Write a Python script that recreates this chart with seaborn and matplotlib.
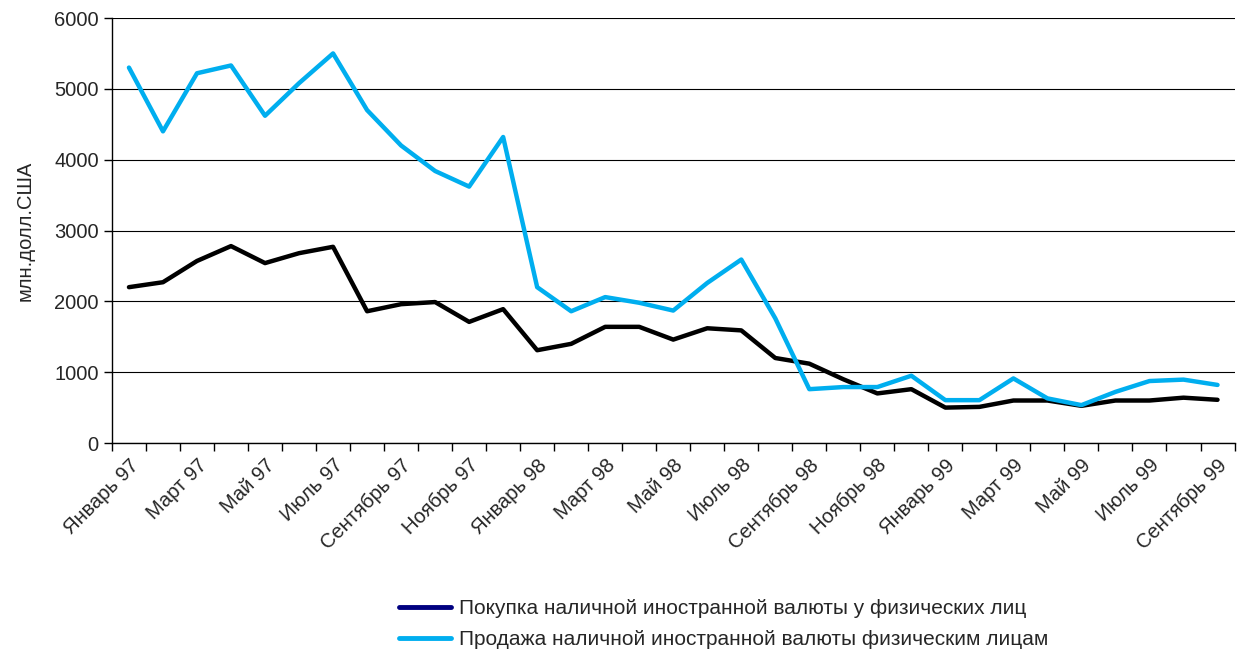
import matplotlib
matplotlib.use("Agg")
import matplotlib.pyplot as plt
import numpy as np
import pandas as pd
import seaborn as sns
from matplotlib.lines import Line2D
from matplotlib.ticker import FixedLocator, NullFormatter

months = ['Январь', 'Февраль', 'Март', 'Апрель', 'Май', 'Июнь', 'Июль', 'Август',
          'Сентябрь', 'Октябрь', 'Ноябрь', 'Декабрь']
years = ['97', '98', '99']
periods = [f"{m} {y}" for y in years for m in months][:33]

buy = [2200, 2270, 2570, 2780, 2540, 2680, 2770, 1860, 1960, 1990, 1710, 1890,
       1310, 1400, 1640, 1640, 1460, 1620, 1590, 1200, 1120, 900, 700, 760,
       500, 510, 600, 600, 525, 600, 600, 640, 610]
sell = [5300, 4400, 5220, 5330, 4620, 5080, 5500, 4700, 4200, 3840, 3620, 4320,
        2200, 1860, 2060, 1980, 1870, 2260, 2590, 1760, 760, 790, 790, 950,
        605, 605, 912, 630, 535, 722, 875, 895, 820]

label_buy = 'Покупка наличной иностранной валюты у физических лиц'
label_sell = 'Продажа наличной иностранной валюты физическим лицам'
ylabel = 'млн.долл.США'

sns.set_style("white")
plt.rcParams['font.family'] = ['Liberation Sans', 'DejaVu Sans']
plt.rcParams['font.size'] = 14.5

df = pd.DataFrame({'idx': np.arange(len(periods)), 'buy': buy, 'sell': sell})

fig = plt.figure(figsize=(12.37, 6.57), dpi=100)
ax = fig.add_axes([0.0905, 0.3257, 0.9075, 0.6469])

sns.lineplot(data=df, x='idx', y='buy', color='black', linewidth=3.2, ax=ax, zorder=3)
sns.lineplot(data=df, x='idx', y='sell', color='#00AEEF', linewidth=3.2, ax=ax, zorder=4)

ax.set_xlim(-0.5, len(periods) - 0.5)
ax.set_ylim(0, 6000)
ax.set_yticks(range(0, 6001, 1000))
ax.yaxis.grid(True, color='black', linewidth=0.8)
ax.set_axisbelow(True)

# ticks at category boundaries, labels every second month
ax.xaxis.set_minor_locator(FixedLocator(np.arange(-0.5, len(periods), 1.0)))
ax.xaxis.set_minor_formatter(NullFormatter())
ax.set_xticks(np.arange(0, len(periods), 2))
ax.set_xticklabels(periods[::2], rotation=45, ha='right', rotation_mode='anchor')
ax.tick_params(axis='x', which='major', length=0, pad=9, labelsize=14.5)
ax.tick_params(axis='x', which='minor', length=6, width=1, color='black', direction='out', bottom=True)
ax.tick_params(axis='y', length=6, width=1, color='black', direction='out', left=True, labelsize=14.5)

for s in ['top', 'right']:
    ax.spines[s].set_visible(False)
for s in ['left', 'bottom']:
    ax.spines[s].set_color('black')
    ax.spines[s].set_linewidth(1)

ax.set_xlabel('')
ax.set_ylabel(ylabel, fontsize=14.5, labelpad=14)

handles = [Line2D([], [], color='#000080', linewidth=3.5),
           Line2D([], [], color='#00AEEF', linewidth=3.5)]
fig.legend(handles, [label_buy, label_sell], loc='center', bbox_to_anchor=(0.585, 0.05),
           frameon=False, fontsize=15, handlelength=2.5, labelspacing=0.6, handletextpad=0.4)

fig.savefig('out.png', dpi=100)
